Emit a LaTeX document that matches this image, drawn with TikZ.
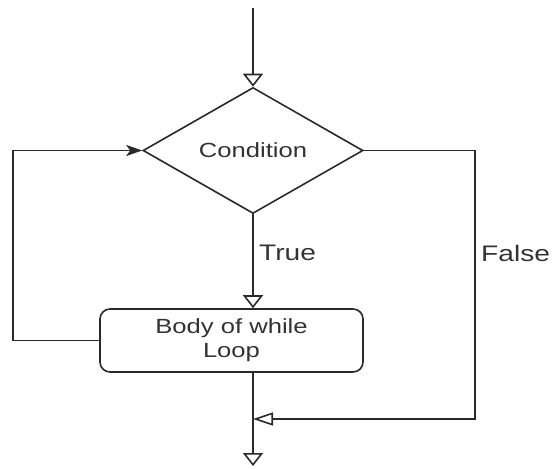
\documentclass[tikz,border=0pt]{standalone}
\usepackage{fontspec}
\setmainfont{Liberation Sans}
\newfontfamily\labfont[FakeStretch=1.25]{Liberation Sans}
\usetikzlibrary{shapes.geometric,arrows.meta}
\definecolor{ln}{HTML}{2A2A2A}
\definecolor{tx}{HTML}{333333}
\begin{document}
\begin{tikzpicture}[x=1pt,y=-1pt,
  flow/.style={draw=ln,line width=1.6pt},
  vtip/.style={-{Triangle[open,length=13pt,width=20pt]}},
  htip/.style={-{Triangle[open,length=20pt,width=13pt]}},
  ftip/.style={-{Stealth[length=16pt,width=11pt,inset=4pt]}},
  decision/.style={diamond,draw=ln,line width=1.6pt,minimum width=220pt,minimum height=126pt,inner sep=0pt,shape aspect=1.746,font={\labfont\fontsize{20.5}{24}\selectfont},text=tx},
  process/.style={rectangle,rounded corners=10pt,draw=ln,line width=1.6pt,minimum width=263pt,minimum height=63pt,align=center,font={\labfont\fontsize{20.5}{24}\selectfont},text=tx},
  edgelab/.style={anchor=west,inner sep=0pt,font={\labfont\fontsize{22.5}{27}\selectfont},text=tx}]
\useasboundingbox (0,0) rectangle (553,468);
\node[decision] (cond) at (253,150.5) {Condition};
\node[process] (body) at (231.5,340.5) {Body of while\\Loop};
\coordinate (start) at (253,8);
\coordinate (merge) at (253,419);
\coordinate (end) at (253,466);
\coordinate (lb) at (13,340.5);
\coordinate (rt) at (475,150.5);
\coordinate (rb) at (475,419);
\draw[flow,vtip] (start) -- (cond.north);
\draw[flow,vtip] (cond.south) -- (cond.south |- body.north);
\draw[flow,ftip] (body.west) -- (lb) -- (lb |- cond.west) -- (cond.west);
\draw[flow,htip] (cond.east) -- (rt) -- (rb) -- (merge);
\draw[flow,vtip] (body.south -| merge) -- (end);
\node[edgelab] (ltrue) at (259,253) {True};
\node[edgelab] (lfalse) at (481,253) {False};
\end{tikzpicture}
\end{document}
